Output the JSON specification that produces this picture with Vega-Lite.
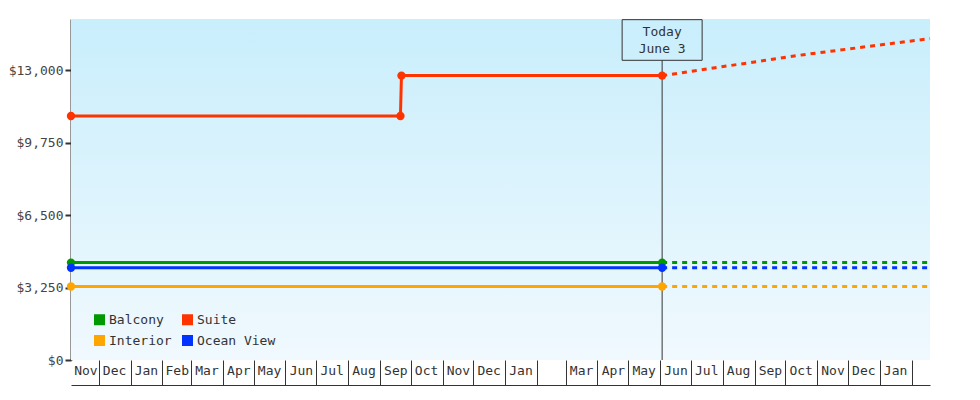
{
  "$schema": "https://vega.github.io/schema/vega-lite/v6.json",
  "width": 859,
  "height": 341,
  "autosize": {"type": "none"},
  "padding": {"left": 71, "top": 19, "right": 50, "bottom": 40},
  "background": "#ffffff",
  "config": {
    "view": {"stroke": null},
    "font": "DejaVu Sans Mono",
    "axis": {"labelFont": "DejaVu Sans Mono", "labelFontSize": 13, "labelColor": "#333333", "grid": false}
  },
  "datasets": {
    "prices": [
      {"series": "Balcony", "date": "2021-11-04T00:00:00", "price": 4370, "kind": "actual"},
      {"series": "Balcony", "date": "2023-06-03T00:00:00", "price": 4370, "kind": "actual"},
      {"series": "Balcony", "date": "2023-06-03T00:00:00", "price": 4370, "kind": "projected"},
      {"series": "Balcony", "date": "2024-02-19T00:00:00", "price": 4370, "kind": "projected"},
      {"series": "Ocean View", "date": "2021-11-04T00:00:00", "price": 4140, "kind": "actual"},
      {"series": "Ocean View", "date": "2023-06-03T00:00:00", "price": 4140, "kind": "actual"},
      {"series": "Ocean View", "date": "2023-06-03T00:00:00", "price": 4140, "kind": "projected"},
      {"series": "Ocean View", "date": "2024-02-19T00:00:00", "price": 4140, "kind": "projected"},
      {"series": "Interior", "date": "2021-11-04T00:00:00", "price": 3300, "kind": "actual"},
      {"series": "Interior", "date": "2023-06-03T00:00:00", "price": 3300, "kind": "actual"},
      {"series": "Interior", "date": "2023-06-03T00:00:00", "price": 3300, "kind": "projected"},
      {"series": "Interior", "date": "2024-02-19T00:00:00", "price": 3300, "kind": "projected"},
      {"series": "Suite", "date": "2021-11-04T00:00:00", "price": 10950, "kind": "actual"},
      {"series": "Suite", "date": "2022-09-21T00:00:00", "price": 10950, "kind": "actual"},
      {"series": "Suite", "date": "2022-09-22T00:00:00", "price": 12760, "kind": "actual"},
      {"series": "Suite", "date": "2023-06-03T00:00:00", "price": 12760, "kind": "actual"},
      {"series": "Suite", "date": "2023-06-03T00:00:00", "price": 12760, "kind": "projected"},
      {"series": "Suite", "date": "2023-10-19T00:00:00", "price": 13700, "kind": "projected"},
      {"series": "Suite", "date": "2024-02-19T00:00:00", "price": 14420, "kind": "projected"}
    ],
    "today": [
      {"date": "2023-06-03T00:00:00", "label": "Today\nJune 3"}
    ]
  },
  "layer": [
    {
      "data": {"values": [{}]},
      "mark": {
        "type": "rect",
        "fill": {
          "gradient": "linear", "x1": 0, "y1": 0, "x2": 0, "y2": 1,
          "stops": [{"offset": 0, "color": "#c9eefc"}, {"offset": 1, "color": "#f0f9fe"}]
        }
      },
      "encoding": {
        "x": {
          "datum": {"year": 2021, "month": 11, "date": 4},
          "type": "temporal",
          "scale": {"domain": [{"year": 2021, "month": 11, "date": 4}, {"year": 2024, "month": 2, "date": 19}], "nice": false, "padding": 0},
          "axis": {
            "orient": "bottom", "domain": false, "labels": false, "ticks": true,
            "tickSize": 25, "tickColor": "#333333", "tickWidth": 1,
            "tickCount": {"interval": "month", "step": 1}, "grid": false, "title": null
          }
        },
        "x2": {"datum": {"year": 2024, "month": 2, "date": 19}},
        "y": {
          "datum": 0,
          "type": "quantitative",
          "scale": {"domain": [0, 15300], "nice": false, "zero": true, "padding": 0},
          "axis": {
            "orient": "left",
            "values": [0, 3250, 6500, 9750, 13000], "format": "$,.0f", "title": null,
            "domainColor": "#333333", "domainWidth": 2, "tickColor": "#333333",
            "tickWidth": 2, "tickSize": 6, "labelPadding": 2, "labelColor": "#444444", "grid": false
          }
        },
        "y2": {"datum": 15300}
      }
    },
    {
      "data": {"name": "today"},
      "mark": {"type": "rule", "color": "#333333", "strokeWidth": 1},
      "encoding": {
        "x": {
          "field": "date", "type": "temporal",
          "axis": {
            "orient": "bottom", "offset": 25, "domain": true, "domainColor": "#333333", "domainWidth": 1,
            "ticks": false, "labelPadding": -21, "labelFlush": false, "labelOverlap": false,
            "labelAlign": "center", "format": "%b", "title": null, "grid": false,
            "values": [
              {"year": 2021, "month": 11, "date": 18},
              {"year": 2021, "month": 12, "date": 16},
              {"year": 2022, "month": 1, "date": 16},
              {"year": 2022, "month": 2, "date": 15},
              {"year": 2022, "month": 3, "date": 16},
              {"year": 2022, "month": 4, "date": 16},
              {"year": 2022, "month": 5, "date": 16},
              {"year": 2022, "month": 6, "date": 16},
              {"year": 2022, "month": 7, "date": 16},
              {"year": 2022, "month": 8, "date": 16},
              {"year": 2022, "month": 9, "date": 16},
              {"year": 2022, "month": 10, "date": 16},
              {"year": 2022, "month": 11, "date": 16},
              {"year": 2022, "month": 12, "date": 16},
              {"year": 2023, "month": 1, "date": 16},
              {"year": 2023, "month": 3, "date": 16},
              {"year": 2023, "month": 4, "date": 16},
              {"year": 2023, "month": 5, "date": 16},
              {"year": 2023, "month": 6, "date": 16},
              {"year": 2023, "month": 7, "date": 16},
              {"year": 2023, "month": 8, "date": 16},
              {"year": 2023, "month": 9, "date": 16},
              {"year": 2023, "month": 10, "date": 16},
              {"year": 2023, "month": 11, "date": 16},
              {"year": 2023, "month": 12, "date": 16},
              {"year": 2024, "month": 1, "date": 16}
            ]
          }
        },
        "y": {"datum": 13447, "type": "quantitative", "axis": null},
        "y2": {"datum": 0}
      }
    },
    {
      "data": {"name": "today"},
      "mark": {"type": "bar", "width": 80, "fill": "#ffffff", "fillOpacity": 0, "stroke": "#333333", "strokeWidth": 1},
      "encoding": {
        "x": {"field": "date", "type": "temporal", "axis": null},
        "y": {"datum": 15270, "type": "quantitative", "axis": null},
        "y2": {"datum": 13447}
      }
    },
    {
      "data": {"name": "today"},
      "mark": {"type": "text", "lineBreak": "\n", "align": "center", "baseline": "middle", "fontSize": 13, "lineHeight": 17, "color": "#333333", "font": "DejaVu Sans Mono"},
      "encoding": {
        "x": {"field": "date", "type": "temporal", "axis": null},
        "y": {"datum": 14710, "type": "quantitative", "axis": null},
        "text": {"field": "label"}
      }
    },
    {
      "data": {"name": "prices"},
      "mark": {"type": "line", "strokeWidth": 3},
      "encoding": {
        "x": {"field": "date", "type": "temporal", "axis": null},
        "y": {"field": "price", "type": "quantitative", "axis": null},
        "color": {
          "field": "series", "type": "nominal",
          "scale": {"domain": ["Balcony", "Interior", "Suite", "Ocean View"], "range": ["#009900", "#ffa500", "#ff3300", "#0033ff"]},
          "legend": null
        },
        "strokeDash": {
          "field": "kind", "type": "nominal",
          "scale": {"domain": ["actual", "projected"], "range": [[1, 0], [5, 5]]},
          "legend": null
        }
      }
    },
    {
      "data": {"name": "prices"},
      "transform": [{"filter": "datum.kind === 'actual'"}],
      "mark": {"type": "circle", "size": 70, "opacity": 1},
      "encoding": {
        "x": {"field": "date", "type": "temporal", "axis": null},
        "y": {"field": "price", "type": "quantitative", "axis": null},
        "color": {
          "field": "series", "type": "nominal",
          "legend": {
            "orient": "none", "legendX": 22, "legendY": 294, "columns": 2, "title": null,
            "symbolType": "square", "symbolSize": 121, "symbolStrokeWidth": 0, "symbolOpacity": 1,
            "labelFont": "DejaVu Sans Mono", "labelFontSize": 13, "labelColor": "#333333",
            "columnPadding": 9, "rowPadding": 7, "labelOffset": 3, "padding": 0
          }
        }
      }
    }
  ],
  "resolve": {"axis": {"x": "independent", "y": "independent"}, "legend": {"color": "independent"}}
}
